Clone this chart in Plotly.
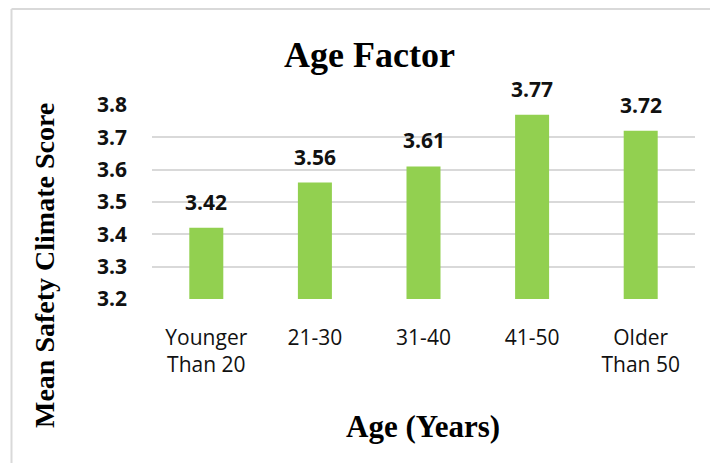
import plotly.graph_objects as go

# Data
age_groups = ["Younger<br>Than 20", "21-30", "31-40", "41-50", "Older<br>Than 50"]
mean_scores = [3.42, 3.56, 3.61, 3.77, 3.72]
y_ticks = [3.2, 3.3, 3.4, 3.5, 3.6, 3.7, 3.8]

W, H = 710, 463
ML, MR, MT, MB = 152, 15, 105, 164
PW, PH = W - ML - MR, H - MT - MB

BAR_COLOR = "#92D050"
GRID = "#D9D9D9"
SANS = "Open Sans"
SERIF = "Liberation Serif"
INK = "#111111"

fig = go.Figure(
    go.Bar(
        x=age_groups,
        y=mean_scores,
        base=0,
        marker=dict(color=BAR_COLOR, line=dict(width=0)),
        hoverinfo="skip",
    )
)

# value labels above each bar
for cat, val in zip(age_groups, mean_scores):
    fig.add_annotation(
        x=cat, y=val, text=f"{val:.2f}", showarrow=False,
        yanchor="middle", yshift=26,
        font=dict(family=SANS, size=21, color=INK, weight="bold"),
    )

# chart title
fig.add_annotation(
    xref="paper", yref="paper",
    x=(369 - ML) / PW, y=1 + (MT - 55) / PH,
    text="<b>Age Factor</b>", showarrow=False,
    xanchor="center", yanchor="middle",
    font=dict(family=SERIF, size=36, color="#000000"),
)

# axis titles
fig.add_annotation(
    xref="paper", yref="paper",
    x=(44 - ML) / PW, y=1 - (266 - MT) / PH,
    text="<b>Mean Safety Climate Score</b>", showarrow=False,
    textangle=-90, xanchor="center", yanchor="middle",
    font=dict(family=SERIF, size=28, color="#000000"),
)
fig.add_annotation(
    xref="paper", yref="paper",
    x=(423 - ML) / PW, y=-(426 - (MT + PH)) / PH,
    text="<b>Age (Years)</b>", showarrow=False,
    xanchor="center", yanchor="middle",
    font=dict(family=SERIF, size=31, color="#000000"),
)

# chart frame (left and top edges)
fx0 = (11.5 - ML) / PW
fy1 = 1 + (MT - 9) / PH
fig.add_shape(type="line", xref="paper", yref="paper",
              x0=fx0, x1=fx0, y0=fy1, y1=-(H - MT - PH + 5) / PH,
              line=dict(color=GRID, width=2))
fig.add_shape(type="line", xref="paper", yref="paper",
              x0=fx0, x1=(W + 5 - ML) / PW, y0=fy1, y1=fy1,
              line=dict(color=GRID, width=2))

fig.update_layout(
    width=W, height=H,
    margin=dict(l=ML, r=MR, t=MT, b=MB),
    paper_bgcolor="white", plot_bgcolor="white",
    bargap=0.687,
    showlegend=False,
    xaxis=dict(
        showline=False, showgrid=False, zeroline=False,
        ticks="", ticklabelstandoff=24,
        tickfont=dict(family=SANS, size=21, color=INK),
    ),
    yaxis=dict(
        range=[y_ticks[0], y_ticks[-1]],
        tickvals=y_ticks, ticktext=[f"{v:.1f}" for v in y_ticks],
        showgrid=True, gridcolor=GRID, gridwidth=1.5,
        showline=False, zeroline=False, ticks="",
        ticklabelstandoff=24,
        tickfont=dict(family=SANS, size=21, color=INK, weight="bold"),
    ),
)

fig.write_html("out.html")
